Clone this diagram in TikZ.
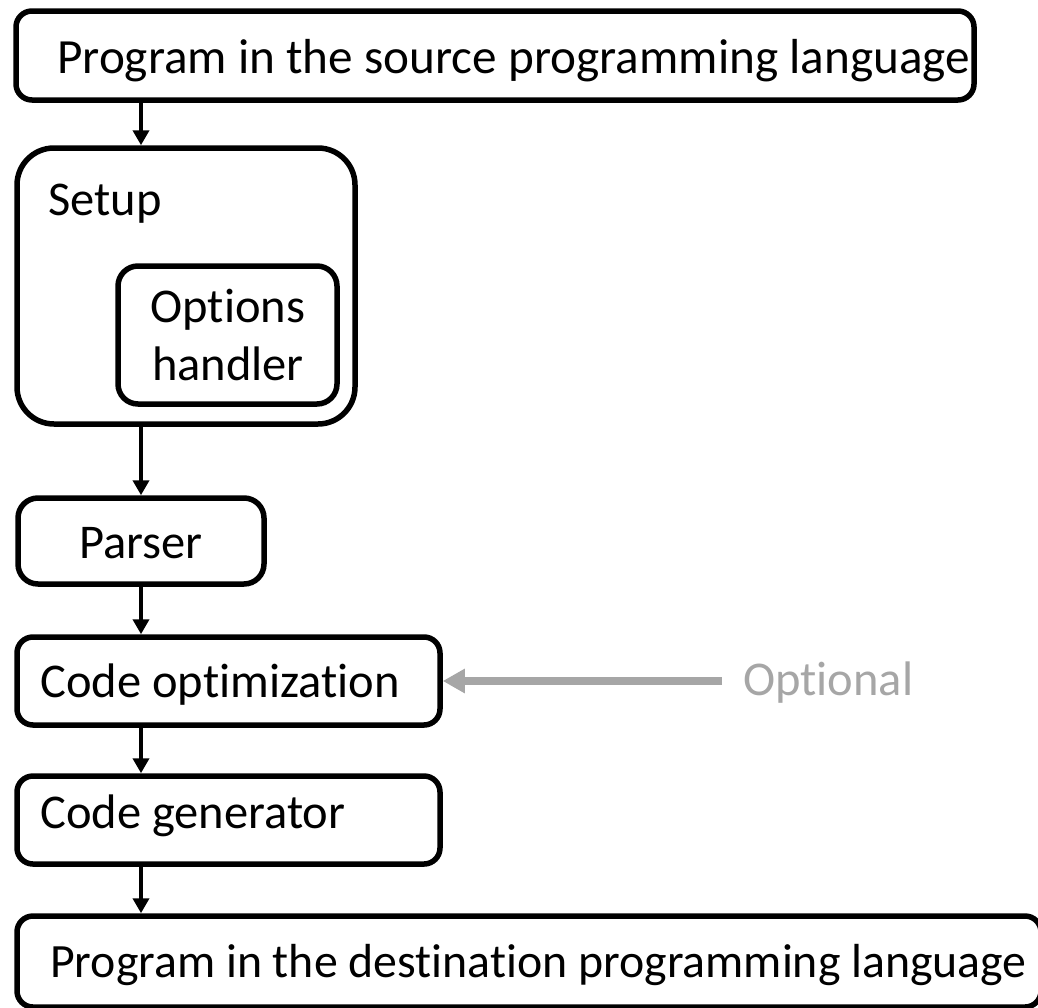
\documentclass[tikz,border=0pt]{standalone}
\usepackage{fontspec}
\setmainfont[Ligatures=CommonOff]{Carlito}
\usetikzlibrary{arrows.meta}
\definecolor{optgrey}{HTML}{A6A6A6}
\begin{document}
\begin{tikzpicture}[x=1pt,y=-1pt,
  stage/.style={draw=black, line width=5.5pt, fill=white, inner sep=0pt,
    rounded corners=#1},
  stage/.default=16pt,
  lbl/.style={anchor=base west, inner sep=0pt, font=\fontsize{48.5}{58}\selectfont},
  flow/.style={draw=black, line width=4pt, -{Triangle[length=15pt,width=16pt]}},
  hint/.style={draw=optgrey, line width=7.5pt, -{Triangle[length=22pt,width=23pt]}}]
\useasboundingbox (0,0) rectangle (1038,1007);
\clip (0,0) rectangle (1038,1007);

% processing stages
\node[stage, minimum width=958pt, minimum height=89pt] (src) at (495,55.5) {};
\node[stage=37pt, minimum width=338pt, minimum height=276pt] (setup) at (186,286) {};
\node[stage=20pt, minimum width=219pt, minimum height=138pt] (opts) at (227.5,335) {};
\node[stage=20pt, minimum width=246pt, minimum height=86pt] (par) at (141,541) {};
\node[stage, minimum width=423pt, minimum height=88pt] (opt) at (228.5,681) {};
\node[stage, minimum width=423pt, minimum height=88pt] (gen) at (228.5,820) {};
\node[stage, minimum width=1024pt, minimum height=91pt] (dst) at (529,961.5) {};

% stage labels
\node[lbl, font=\fontsize{49.2}{58}\selectfont] (srct) at (57,73) {Program in the source programming language};
\node[lbl] (setupt) at (48,215) {Setup};
\node[lbl, anchor=base] (optst1) at (228,322) {Options};
\node[lbl, anchor=base] (optst2) at (228,380) {handler};
\node[lbl, anchor=base] (part) at (141,558) {Parser};
\node[lbl] (optt) at (40,697) {Code optimization};
\node[lbl] (gent) at (40,828) {Code generator};
\node[lbl, font=\fontsize{47.8}{58}\selectfont] (dstt) at (50,977) {Program in the destination programming language};
\node[lbl, text=optgrey] (hintt) at (743,695) {Optional};

% flow between stages
\draw[flow] (src.south -| par) -- (setup.north -| par);
\draw[flow] (setup.south -| par) -- (par.north);
\draw[flow] (par.south) -- (opt.north -| par);
\draw[flow] (opt.south -| par) -- (gen.north -| par);
\draw[flow] (gen.south -| par) -- (dst.north -| par);

% optional step marker
\coordinate (hintend) at (722,681);
\draw[hint] (hintend) -- (opt.east);
\end{tikzpicture}
\end{document}
